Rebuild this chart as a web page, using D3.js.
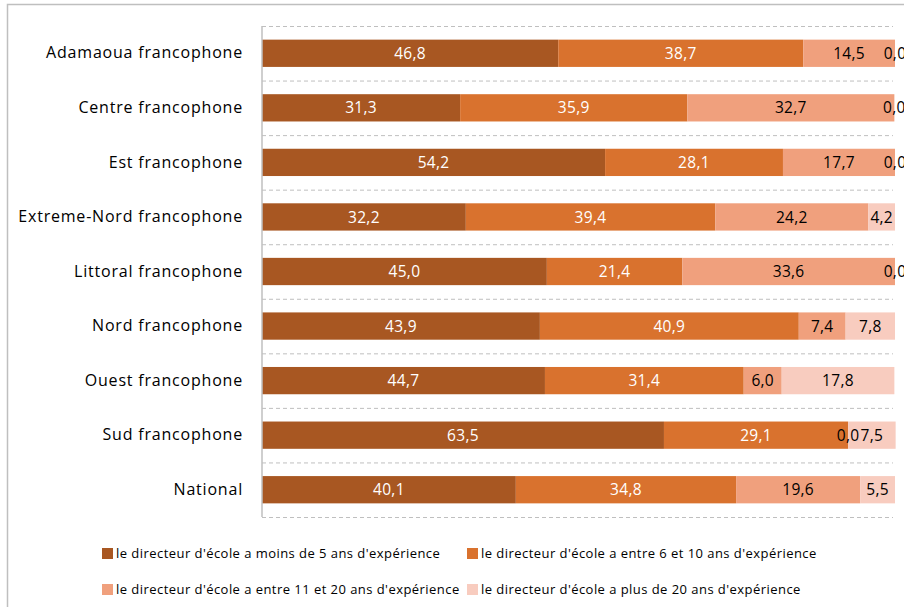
<!DOCTYPE html>
<html><head><meta charset="utf-8">
<script src="https://cdn.jsdelivr.net/npm/d3@7"></script>
<style>body{margin:0;background:#fff}svg{display:block}</style>
</head><body>
<svg id="c" width="904" height="607"></svg>
<script>
const categories = ["Adamaoua francophone","Centre francophone","Est francophone","Extreme-Nord francophone","Littoral francophone","Nord francophone","Ouest francophone","Sud francophone","National"];
const seriesNames = ["le directeur d'école a moins de 5 ans d'expérience","le directeur d'école a entre 6 et 10 ans d'expérience","le directeur d'école a entre 11 et 20 ans d'expérience","le directeur d'école a plus de 20 ans d'expérience"];
const moins5 = [46.8,31.3,54.2,32.2,45.0,43.9,44.7,63.5,40.1];
const entre6_10 = [38.7,35.9,28.1,39.4,21.4,40.9,31.4,29.1,34.8];
const entre11_20 = [14.5,32.7,17.7,24.2,33.6,7.4,6.0,0.0,19.6];
const plus20 = [0.0,0.0,0.0,4.2,0.0,7.8,17.8,7.5,5.5];
const seriesValues = [moins5, entre6_10, entre11_20, plus20];
const colors = ["#A85722","#D9722E","#F0A07D","#F8CCBF"];
const labelColors = ["#fff","#fff","#000","#000"];

const svg = d3.select("#c");
const font = "'Open Sans', Lato, sans-serif";
// frame
svg.append("rect").attr("x",7.5).attr("y",4.5).attr("width",910).attr("height",620)
  .attr("fill","none").attr("stroke","#bfbfbf").attr("stroke-width",1.5);

const x = d3.scaleLinear().domain([0,100]).range([262,895]);
const y = d3.scaleBand().domain(categories).range([26,517]).paddingInner(0.5).paddingOuter(0.25);
const step = y.step();

// gridlines (dashed, between categories)
const gl = svg.append("g");
for (let i=0;i<=categories.length;i++){
  const yy = 26 + i*step;
  gl.append("line").attr("x1",262).attr("x2",893).attr("y1",yy+0.5).attr("y2",yy+0.5)
    .attr("stroke","#bfbfbf").attr("stroke-dasharray","4,3").attr("stroke-width",1);
}

const stackData = categories.map((c,i)=>{
  const o={cat:c}; seriesValues.forEach((s,k)=>o["s"+k]=s[i]); return o;});
const stack = d3.stack().keys(seriesValues.map((_,k)=>"s"+k))(stackData);

stack.forEach((layer,k)=>{
  const g = svg.append("g");
  g.selectAll("rect").data(layer).join("rect")
    .attr("x",d=>x(d[0])).attr("width",d=>Math.max(0,x(d[1])-x(d[0])))
    .attr("y",d=>y(d.data.cat)).attr("height",y.bandwidth())
    .attr("fill",colors[k]);
});
stack.forEach((layer,k)=>{
  svg.append("g").selectAll("text").data(layer).join("text")
    .attr("x",d=>(x(d[0])+x(d[1]))/2).attr("y",d=>y(d.data.cat)+y.bandwidth()/2)
    .attr("dy","0.36em").attr("text-anchor","middle")
    .attr("font-family",font).attr("font-size",15.5).attr("fill",labelColors[k])
    .attr("letter-spacing","0.3px")
    .text(d=>d3.format(".1f")(d[1]-d[0]).replace(".",","));
});

// y axis
const ax = svg.append("g").attr("transform","translate(262,0)")
  .call(d3.axisLeft(y).tickSize(0).tickPadding(19));
ax.select(".domain").attr("stroke","#bfbfbf").attr("stroke-width",1.5)
  .attr("d","M0,26V517");
ax.selectAll("text").attr("font-family",font).attr("font-size",16).attr("fill","#000")
  .attr("letter-spacing","0.8px");

// legend
const legPos = [[102,553],[467,553],[102,589],[467,589]];
seriesNames.forEach((n,k)=>{
  const g = svg.append("g").attr("transform",`translate(${legPos[k][0]},${legPos[k][1]})`);
  g.append("rect").attr("x",0).attr("y",-5).attr("width",11).attr("height",11).attr("fill",colors[k]);
  g.append("text").attr("x",14).attr("y",0).attr("dy","0.36em")
    .attr("font-family",font).attr("font-size",13).attr("fill","#000")
    .attr("letter-spacing","0.45px").text(n);
});
</script>
</body></html>
